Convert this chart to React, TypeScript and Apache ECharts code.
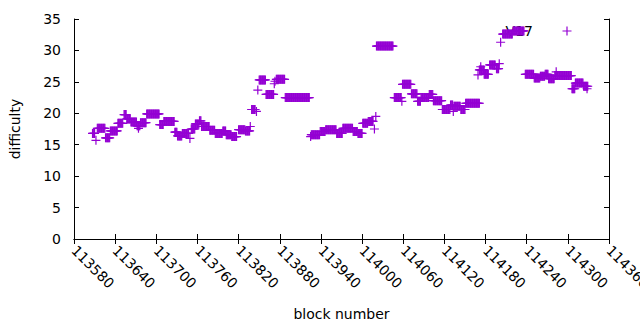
import React, { useEffect, useRef } from "react";
import * as echarts from "echarts";

// Runs of consecutive blocks sharing one difficulty value
const runStart = [
  113607, 113612, 113614, 113626, 113633, 113644, 113653, 113657, 113663, 113672,
  113674, 113677, 113686, 113705, 113711, 113727, 113731, 113738, 113749, 113751,
  113757, 113763, 113766, 113778, 113786, 113797, 113802, 113810, 113820, 113830,
  113837, 113839, 113846, 113848, 113850, 113860, 113872, 113873, 113875, 113888,
  113925, 113926, 113939, 113947, 113963, 113972, 113987, 113994, 114001, 114009,
  114018, 114020, 114021, 114047, 114058, 114059, 114072, 114081, 114086, 114098,
  114104, 114117, 114129, 114133, 114134, 114144, 114151, 114169, 114173, 114171,
  114178, 114186, 114196, 114200, 114202, 114205, 114220, 114238, 114251, 114260,
  114267, 114272, 114283, 114281, 114306, 114311, 114323, 114328,
];
const runEnd = [
  113610, 113612, 113625, 113632, 113643, 113651, 113656, 113662, 113671, 113676,
  113674, 113685, 113704, 113710, 113726, 113730, 113737, 113747, 113749, 113756,
  113762, 113765, 113777, 113785, 113796, 113801, 113809, 113817, 113829, 113836,
  113837, 113844, 113846, 113848, 113859, 113871, 113872, 113873, 113887, 113923,
  113925, 113938, 113946, 113962, 113971, 113986, 113993, 114000, 114008, 114016,
  114018, 114020, 114045, 114057, 114058, 114071, 114080, 114085, 114097, 114103,
  114116, 114128, 114132, 114133, 114143, 114150, 114171, 114169, 114173, 114178,
  114184, 114194, 114199, 114200, 114202, 114219, 114236, 114250, 114259, 114266,
  114271, 114280, 114283, 114305, 114310, 114322, 114329, 114328,
];
const runDifficulty = [
  16.8, 15.7, 17.6, 16.1, 17.2, 18.4, 19.8, 19.1, 18.6, 18.0,
  17.6, 18.5, 19.9, 18.2, 18.7, 17.0, 16.4, 16.8, 16.0, 17.5,
  18.3, 18.8, 17.9, 17.3, 16.8, 17.2, 16.6, 16.3, 17.4, 17.2,
  17.9, 20.6, 20.3, 23.7, 25.3, 23.0, 24.7, 25.1, 25.4, 22.5,
  16.3, 16.6, 17.1, 17.4, 16.8, 17.6, 17.1, 16.8, 18.4, 18.7,
  17.5, 19.5, 30.7, 22.5, 21.9, 24.6, 23.1, 21.9, 22.5, 23.0,
  22.0, 20.6, 21.3, 20.3, 21.1, 20.6, 21.6, 26.1, 27.4, 26.9,
  26.2, 27.7, 27.1, 27.9, 31.3, 32.6, 33.1, 26.2, 25.6, 25.9,
  26.2, 25.5, 26.6, 26.0, 23.9, 24.8, 24.3, 23.9,
];

const seriesName = "V17";
const xMin = 113580;
const xMax = 114360;
const xStep = 60;
const yMin = 0;
const yMax = 35;
const yStep = 5;

const FONT = "DejaVu Sans";
const VIOLET = "#9400D3";
const PLUS = "path://M0,3.9H9V5.1H0Z M3.9,0H5.1V9H3.9Z";
const LEGEND_PLUS =
  "path://M0,4.5L0.01,4.5Z M58,4.5L57.99,4.5Z M24.5,3.9H33.5V5.1H24.5Z M28.4,0H29.6V9H28.4Z";

export default function App() {
  const ref = useRef<HTMLDivElement>(null);
  useEffect(() => {
    document.body.style.margin = "0";
    if (!ref.current) return;
    const chart = echarts.init(ref.current, undefined, { renderer: "svg" });
    const points: number[][] = [];
    runStart.forEach((s, i) => {
      for (let b = s; b <= runEnd[i]; b++) points.push([b, runDifficulty[i]]);
    });
    const axisLine = { show: true, lineStyle: { color: "#000", width: 1 } };
    const tick = { show: true, inside: true, length: 5, lineStyle: { color: "#000", width: 1 } };
    const txt = { fontFamily: FONT, fontSize: 14, color: "#000" };
    chart.setOption({
      animation: false,
      backgroundColor: "#fff",
      grid: { left: 74, right: 31, top: 19, bottom: 91, containLabel: false, outerBoundsMode: "none" },
      legend: {
        show: true,
        z: 1,
        data: [seriesName],
        right: 44,
        top: 24,
        padding: 0,
        align: "right",
        itemWidth: 58,
        itemHeight: 9,
        icon: LEGEND_PLUS,
        selectedMode: false,
        textStyle: txt,
      },
      xAxis: [
        {
          type: "value",
          position: "bottom",
          min: xMin,
          max: xMax,
          interval: xStep,
          axisLine,
          axisTick: tick,
          splitLine: { show: false },
          axisLabel: {
            ...txt,
            rotate: -45,
            margin: 9,
            showMinLabel: true,
            showMaxLabel: true,
            formatter: (v: number) => String(v),
          },
          name: "block number",
          nameLocation: "middle",
          nameGap: 68,
          nameTextStyle: txt,
        },
        {
          type: "value",
          position: "top",
          min: xMin,
          max: xMax,
          interval: xStep,
          axisLine,
          axisTick: tick,
          splitLine: { show: false },
          axisLabel: { show: false },
        },
      ],
      yAxis: [
        {
          type: "value",
          position: "left",
          min: yMin,
          max: yMax,
          interval: yStep,
          axisLine,
          axisTick: tick,
          splitLine: { show: false },
          axisLabel: { ...txt, margin: 13, formatter: (v: number) => String(v) },
          name: "difficulty",
          nameLocation: "middle",
          nameGap: 52,
          nameTextStyle: txt,
        },
        {
          type: "value",
          position: "right",
          min: yMin,
          max: yMax,
          interval: yStep,
          axisLine,
          axisTick: tick,
          splitLine: { show: false },
          axisLabel: { show: false },
        },
      ],
      series: [
        {
          name: seriesName,
          type: "scatter",
          z: 3,
          xAxisIndex: 0,
          yAxisIndex: 0,
          symbol: PLUS,
          symbolSize: 9,
          itemStyle: { color: VIOLET, opacity: 1 },
          emphasis: { disabled: true },
          data: points,
        },
      ],
    });
    return () => chart.dispose();
  }, []);
  return <div ref={ref} style={{ width: 640, height: 330 }} />;
}
